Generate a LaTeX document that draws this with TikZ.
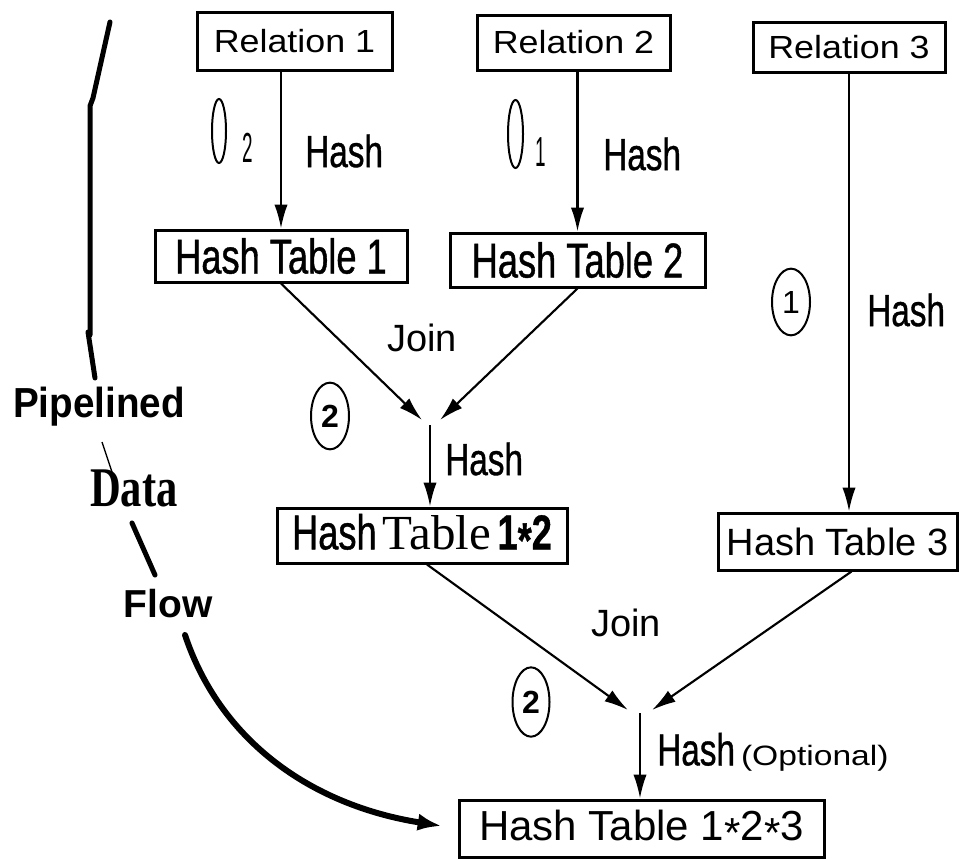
\documentclass[tikz,border=0pt]{standalone}
\usepackage{fontspec}
\setmainfont{Liberation Sans}
\newfontfamily\relf[FakeStretch=1.12]{Liberation Sans}
\newfontfamily\condf[FakeStretch=0.74,FakeBold=0.8]{Liberation Sans}
\newfontfamily\subf[FakeStretch=0.45]{Liberation Sans}
\newfontfamily\serf{Liberation Serif}
\newfontfamily\dataf[FakeStretch=0.76]{Liberation Serif}
\newfontfamily\optf[FakeStretch=1.2]{Liberation Sans}
\newfontfamily\pipf[FakeStretch=0.92]{Liberation Sans}
\usetikzlibrary{arrows.meta,shapes.geometric}
\newcommand\fsz[1]{\fontsize{#1pt}{#1pt}\selectfont}
\newcommand\mystar{\raisebox{-0.3ex}{*}}
\tikzset{
  boxnode/.style={draw, line width=2.25pt, inner sep=0pt, align=center},
  arr/.style={line width=1.6pt, -{Latex[length=18pt,width=10pt]}},
  lab/.style={inner sep=0pt, anchor=west},
  txt/.style={inner sep=0pt},
  circ/.style={draw, ellipse, line width=1.5pt, inner sep=0pt},
  thickline/.style={line width=3.75pt, line cap=round, line join=round},
}
\begin{document}
\begin{tikzpicture}[x=0.75pt,y=-0.75pt]
\fill[white] (0,0) rectangle (960,860);
\useasboundingbox (0,0) rectangle (960,860);

% relation boxes
\node[boxnode, minimum width=146.25pt, minimum height=43.5pt] (R1) at (294.5,41) {\relf\fsz{24}Relation 1};
\node[boxnode, minimum width=144.75pt, minimum height=41.25pt] (R2) at (573.5,42.5) {\relf\fsz{24}Relation 2};
\node[boxnode, minimum width=144pt, minimum height=37.5pt] (R3) at (849,47) {\relf\fsz{24}Relation 3};

% hash tables
\node[boxnode, minimum width=189pt, minimum height=39pt] (HT1) at (281,256) {\condf\fsz{36.75}Hash Table 1};
\node[boxnode, minimum width=191.25pt, minimum height=40.5pt] (HT2) at (577.5,260) {\condf\fsz{36.75}Hash Table 2};
\node[boxnode, minimum width=217.5pt, minimum height=41.25pt] (HT12) at (422,535.5) {{\condf\fsz{36.75}Hash}\hspace{4.5pt}{\serf\fsz{36.75}Table}\hspace{5pt}{\condf\bfseries\fsz{36.75}1\mystar2}};
\node[boxnode, minimum width=179.25pt, minimum height=42.75pt] (HT3) at (837.5,541.5) {\fsz{28.5}Hash Table 3};
\node[boxnode, minimum width=273.75pt, minimum height=42.75pt] (HT123) at (641.5,828.5) {\fsz{31.5}Hash Table 1\mystar2\mystar3};

% join points
\coordinate (J1L) at (422,420);
\coordinate (J1R) at (440,420);
\coordinate (J1) at (430,425);
\coordinate (J2L) at (628,710);
\coordinate (J2R) at (652,710);
\coordinate (J2) at (640,713);

% arrows
\draw[arr] (HT1.north |- R1.south) -- (HT1.north);
\draw[arr] (HT2.north |- R2.south) -- (HT2.north);
\draw[arr] (R3.south) -- (R3.south |- HT3.north);
\draw[arr] (HT1.south) -- (J1L);
\draw[arr] (HT2.south) -- (J1R);
\draw[arr] (J1) -- (J1 |- HT12.north);
\draw[arr] ([xshift=3.75pt]HT12.south) -- (J2L);
\draw[arr] ([xshift=10.5pt]HT3.south) -- (J2R);
\draw[arr] (J2) -- (J2 |- HT123.north);

% labels
\node[lab] (h1) at (305,151) {\condf\fsz{33.75}Hash};
\node[lab] (h2) at (603,154) {\condf\fsz{33.75}Hash};
\node[lab] (h3) at (867,310) {\condf\fsz{33.75}Hash};
\node[lab] (h4) at (445,459) {\condf\fsz{33.75}Hash};
\node[lab] (h5) at (657,752) {{\condf\fsz{33.75}Hash}\hspace{4.5pt}{\optf\fsz{21}(Optional)}};
\node[txt] (join1) at (422,338) {\fsz{28.5}Join};
\node[txt] (join2) at (626,623) {\fsz{28.5}Join};

% circled order numbers
\node[circ, minimum width=10.5pt, minimum height=48pt] (o2) at (219,131) {};
\node[txt] (s2) at (248,148) {\subf\fsz{31.5}2};
\node[circ, minimum width=11.25pt, minimum height=51pt] (o1) at (515.5,134) {};
\node[txt] (s1) at (540.5,152) {\subf\fsz{31.5}1};
\node[circ, minimum width=28.5pt, minimum height=50pt] (c1) at (791,302) {\fsz{24}1};
\node[circ, minimum width=28.5pt, minimum height=50pt] (c2a) at (330,416) {\bfseries\fsz{24}2};
\node[circ, minimum width=27.75pt, minimum height=52pt] (c2b) at (531,702) {\bfseries\fsz{24}2};

% pipelined data flow
\draw[thickline] (110,22) -- (93,98) -- (90,106) -- (90,335);
\draw[thickline] (88,332) -- (95,378);
\node[txt] (pip) at (99,407) {\pipf\bfseries\fsz{31.5}Pipelined};
\draw[line width=1pt] (102,442) -- (112,472);
\node[txt] (data) at (134,488) {\dataf\bfseries\fsz{42}Data};
\draw[thickline] (132,523) -- (155,575);
\node[txt] (flow) at (168,604) {\bfseries\fsz{29.25}Flow};
\coordinate (fs) at (185,635);
\draw[line width=4.5pt, line cap=round, -{Latex[length=18pt,width=13pt]}, shorten >=12pt]
  (fs) .. controls (220,740) and (310,805) .. (HT123.west);
\end{tikzpicture}
\end{document}
